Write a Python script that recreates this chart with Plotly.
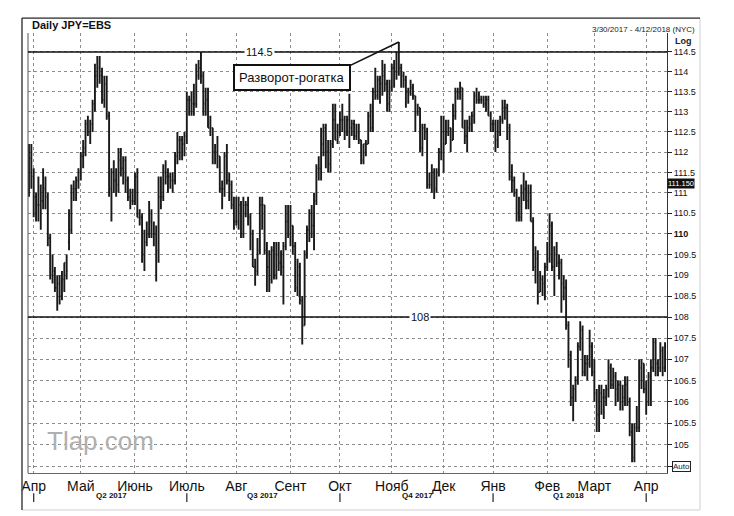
import math
import pandas as pd
import plotly.graph_objects as go

# ---------------- data ----------------
dates = pd.bdate_range("2017-03-30", "2018-04-12")

open_ = [
    111.0, 111.85, 111.4, 110.9, 110.7, 110.7, 110.8, 111.1, 110.9, 109.9,
    109.0, 109.1, 108.7, 108.8, 108.5, 108.9, 109.3, 109.8, 110.1, 111.1,
    111.1, 111.3, 111.5, 111.9, 112.1, 112.7, 112.5, 112.7, 113.2, 113.9,
    114.1, 113.9, 113.3, 113.7, 112.9, 111.1, 111.5, 111.3, 111.2, 111.8,
    111.6, 111.8, 111.3, 110.9, 110.8, 110.8, 111.4, 110.4, 110.4, 109.5,
    109.8, 110.0, 110.3, 110.0, 110.0, 109.6, 110.9, 110.9, 111.5, 111.4,
    111.4, 111.3, 111.3, 111.9, 112.3, 112.3, 112.2, 112.4, 113.3, 113.3,
    113.2, 113.2, 113.9, 114.1, 113.9, 113.2, 113.3, 112.6, 112.6, 112.0,
    112.0, 111.9, 111.1, 111.1, 111.9, 111.3, 111.2, 110.7, 110.3, 110.3,
    110.7, 110.0, 110.7, 110.7, 110.4, 110.0, 109.2, 109.1, 109.6, 110.7,
    110.7, 109.6, 109.2, 108.9, 109.6, 109.0, 109.5, 109.3, 109.2, 109.7,
    110.3, 110.0, 110.2, 109.7, 108.7, 109.2, 108.4, 107.8, 109.5, 110.1,
    110.5, 110.2, 110.8, 111.6, 111.6, 112.2, 112.6, 112.0, 111.7, 112.2,
    112.8, 112.3, 112.5, 112.8, 112.8, 112.5, 112.8, 112.6, 112.7, 112.4,
    112.5, 112.3, 111.8, 112.2, 112.2, 112.9, 112.6, 113.5, 113.4, 113.8,
    113.7, 113.9, 113.7, 113.2, 113.6, 114.1, 114.0, 114.0, 114.1, 113.9,
    113.8, 113.5, 113.5, 113.6, 113.4, 113.0, 113.1, 112.1, 112.6, 112.5,
    111.2, 111.2, 111.5, 111.1, 111.5, 112.0, 112.5, 112.2, 112.5, 112.6,
    112.3, 112.9, 113.5, 113.5, 113.6, 112.6, 112.4, 112.6, 112.7, 112.9,
    113.4, 113.3, 113.3, 113.3, 113.2, 113.3, 112.9, 112.7, 112.7, 112.3,
    112.5, 112.8, 113.1, 113.1, 112.6, 111.4, 111.3, 111.0, 110.5, 110.4,
    111.0, 111.1, 110.8, 111.0, 110.3, 109.2, 109.4, 108.6, 108.9, 108.8,
    109.2, 109.4, 110.2, 109.2, 109.5, 109.3, 109.3, 108.8, 108.7, 107.8,
    107.1, 106.1, 106.3, 106.5, 107.3, 107.7, 106.7, 106.9, 106.9, 107.3,
    106.7, 106.2, 105.7, 106.2, 106.1, 106.1, 106.3, 106.8, 106.4, 106.6,
    106.3, 106.4, 106.0, 106.1, 106.4, 106.0, 105.3, 104.7, 105.4, 105.4,
    106.8, 106.9, 106.3, 106.0, 106.6, 106.8, 107.4, 106.9, 106.8, 107.2,
    106.8,
]

high_ = [
    112.2, 112.2, 111.6, 111.0, 111.4, 111.2, 111.6, 111.4, 111.0, 110.0,
    109.5, 109.2, 109.0, 109.0, 109.1, 109.3, 109.5, 110.6, 111.2, 111.3,
    111.4, 111.6, 112.0, 112.3, 112.8, 112.9, 112.8, 113.3, 114.2, 114.4,
    114.4, 114.1, 113.9, 113.9, 113.0, 111.6, 111.8, 111.6, 112.1, 112.1,
    111.9, 111.9, 111.4, 111.1, 111.1, 111.5, 111.6, 110.6, 110.5, 110.1,
    110.3, 110.8, 110.6, 110.3, 110.2, 111.4, 111.4, 111.7, 111.8, 111.6,
    111.5, 111.5, 112.0, 112.5, 112.4, 112.4, 112.5, 113.5, 113.4, 113.5,
    113.7, 114.2, 114.3, 114.5, 114.0, 113.6, 113.6, 112.9, 112.6, 112.2,
    112.4, 111.9, 111.3, 112.0, 112.2, 111.5, 111.3, 110.9, 110.9, 110.9,
    110.8, 110.9, 110.8, 110.9, 110.5, 110.1, 109.4, 109.9, 110.9, 110.9,
    110.7, 109.8, 109.6, 109.7, 109.8, 109.8, 109.8, 109.6, 109.8, 110.7,
    110.7, 110.7, 110.2, 109.8, 109.4, 109.3, 108.5, 109.6, 110.2, 110.6,
    110.7, 111.0, 111.7, 111.9, 112.6, 112.7, 112.7, 112.3, 112.3, 113.2,
    113.2, 112.7, 113.0, 113.2, 112.9, 112.9, 113.45, 112.8, 112.8, 112.7,
    112.7, 112.3, 112.2, 112.3, 113.0, 113.2, 113.6, 114.1, 113.9, 113.9,
    114.3, 114.2, 113.8, 113.8, 114.2, 114.3, 114.5, 114.75, 114.2, 114.0,
    113.9, 113.6, 113.8, 113.7, 113.4, 113.2, 113.1, 112.7, 112.7, 112.6,
    111.5, 111.7, 111.6, 111.6, 112.1, 112.9, 112.9, 112.8, 112.8, 112.6,
    113.2, 113.6, 113.6, 113.75, 113.6, 112.8, 112.8, 112.9, 113.0, 113.5,
    113.6, 113.5, 113.4, 113.4, 113.4, 113.4, 113.0, 112.8, 112.8, 112.8,
    112.9, 113.3, 113.3, 113.2, 112.7, 111.7, 111.4, 111.1, 110.9, 111.2,
    111.5, 111.3, 111.2, 111.2, 110.4, 109.7, 109.6, 109.1, 109.0, 109.3,
    109.8, 110.5, 110.3, 109.7, 109.8, 109.5, 109.4, 109.0, 108.9, 107.9,
    107.2, 106.4, 106.6, 107.4, 107.9, 107.8, 107.1, 107.1, 107.7, 107.4,
    107.0, 106.3, 106.4, 106.4, 106.3, 106.4, 107.0, 106.9, 106.8, 106.7,
    106.5, 106.5, 106.4, 106.6, 106.6, 106.1, 105.5, 105.5, 105.9, 107.0,
    107.0, 106.9, 106.5, 106.7, 107.0, 107.5, 107.5, 107.0, 107.4, 107.3,
    107.4,
]

low_ = [
    110.9, 111.1, 110.4, 110.3, 110.3, 110.1, 110.6, 110.6, 109.7, 108.9,
    108.8, 108.6, 108.15, 108.3, 108.4, 108.6, 108.9, 109.6, 110.0, 110.8,
    110.8, 111.1, 111.3, 111.6, 111.9, 112.4, 112.2, 112.5, 113.0, 113.6,
    113.7, 113.2, 113.1, 112.8, 110.9, 110.3, 111.0, 110.9, 111.0, 111.4,
    111.2, 111.0, 110.8, 110.6, 110.7, 110.7, 110.4, 110.2, 109.3, 109.1,
    109.7, 109.9, 109.9, 109.7, 108.85, 109.3, 110.6, 110.8, 111.2, 111.0,
    111.1, 111.0, 111.2, 111.7, 111.8, 111.8, 111.9, 112.2, 112.9, 112.9,
    112.9, 113.1, 113.8, 113.7, 112.9, 112.9, 112.6, 112.4, 111.7, 111.7,
    111.6, 111.0, 110.6, 110.9, 111.2, 110.8, 110.6, 110.1, 110.2, 110.1,
    109.9, 109.9, 110.4, 110.2, 109.6, 109.2, 108.75, 109.0, 109.5, 110.1,
    109.5, 108.6, 108.6, 108.8, 108.9, 108.9, 109.1, 109.0, 108.3, 109.6,
    109.9, 109.7, 109.5, 108.6, 108.5, 108.3, 107.35, 107.8, 109.4, 109.8,
    109.9, 109.6, 110.7, 111.3, 111.3, 111.9, 111.6, 111.5, 111.5, 112.1,
    112.3, 112.2, 112.4, 112.5, 112.3, 112.4, 112.1, 112.4, 112.3, 112.3,
    112.2, 111.7, 111.7, 111.9, 112.2, 112.5, 112.5, 113.3, 113.3, 113.2,
    113.4, 113.5, 113.0, 113.0, 113.5, 113.6, 113.8, 113.9, 113.6, 113.6,
    113.1, 113.2, 113.4, 113.3, 112.5, 112.9, 112.0, 111.9, 112.3, 111.1,
    111.1, 111.0, 110.85, 111.0, 111.4, 111.8, 111.5, 112.2, 112.4, 112.0,
    112.3, 112.8, 113.3, 113.3, 112.6, 112.2, 112.0, 112.5, 112.5, 112.7,
    113.2, 113.2, 113.2, 113.1, 113.0, 112.9, 112.5, 112.5, 112.0, 112.1,
    112.4, 112.7, 112.8, 112.3, 111.3, 111.0, 110.9, 110.3, 110.3, 110.3,
    110.8, 110.6, 110.6, 110.3, 109.1, 108.8, 108.3, 108.6, 108.5, 108.4,
    109.1, 109.3, 109.1, 108.5, 109.2, 108.9, 108.1, 108.4, 107.7, 106.8,
    105.9, 105.55, 106.0, 106.4, 107.2, 106.6, 106.6, 106.5, 106.8, 106.6,
    106.0, 105.3, 105.3, 105.7, 105.6, 105.9, 106.1, 106.3, 106.3, 105.9,
    106.0, 105.8, 105.8, 105.9, 105.9, 105.2, 104.6, 104.6, 105.3, 105.3,
    106.3, 106.2, 105.7, 105.9, 105.9, 106.7, 106.6, 106.6, 106.7, 106.6,
    106.7,
]

close_ = [
    111.85, 111.4, 110.9, 110.7, 110.7, 110.8, 111.1, 110.9, 109.9, 109.0,
    109.1, 108.7, 108.8, 108.5, 108.9, 109.3, 109.1, 110.1, 111.1, 111.1,
    111.3, 111.5, 111.9, 112.1, 112.7, 112.5, 112.7, 113.2, 113.9, 114.1,
    113.9, 113.3, 113.7, 112.9, 111.1, 111.5, 111.3, 111.2, 111.8, 111.6,
    111.8, 111.3, 110.9, 110.8, 110.8, 111.4, 110.4, 110.4, 109.5, 109.8,
    110.0, 110.3, 110.0, 110.0, 109.6, 110.9, 110.9, 111.5, 111.4, 111.4,
    111.3, 111.3, 111.9, 112.3, 112.3, 112.2, 112.4, 113.3, 113.3, 113.2,
    113.2, 113.9, 114.1, 113.9, 113.2, 113.3, 112.6, 112.6, 112.0, 112.0,
    111.9, 111.1, 111.1, 111.9, 111.3, 111.2, 110.7, 110.3, 110.3, 110.7,
    110.0, 110.7, 110.7, 110.4, 110.0, 109.2, 109.1, 109.6, 110.7, 110.7,
    109.6, 109.2, 108.9, 109.6, 109.0, 109.5, 109.3, 109.2, 109.7, 110.3,
    110.0, 110.2, 109.7, 108.7, 109.2, 108.4, 107.8, 109.5, 110.1, 110.5,
    110.2, 110.8, 111.6, 111.6, 112.2, 112.6, 112.0, 111.7, 112.2, 112.8,
    112.3, 112.5, 112.8, 112.8, 112.5, 112.8, 112.6, 112.7, 112.4, 112.5,
    112.3, 111.8, 112.2, 112.2, 112.9, 112.6, 113.5, 113.4, 113.8, 113.7,
    113.9, 113.7, 113.2, 113.6, 114.1, 114.0, 114.0, 114.1, 113.9, 113.8,
    113.5, 113.5, 113.6, 113.4, 113.0, 113.1, 112.1, 112.6, 112.5, 111.2,
    111.2, 111.5, 111.1, 111.5, 112.0, 112.5, 112.2, 112.5, 112.6, 112.3,
    112.9, 113.5, 113.5, 113.6, 112.6, 112.4, 112.6, 112.7, 112.9, 113.4,
    113.3, 113.3, 113.3, 113.2, 113.3, 112.9, 112.7, 112.7, 112.3, 112.5,
    112.8, 113.1, 113.1, 112.6, 111.4, 111.3, 111.0, 110.5, 110.4, 111.0,
    111.1, 110.8, 111.0, 110.3, 109.2, 109.4, 108.6, 108.9, 108.8, 109.2,
    109.4, 110.2, 109.2, 109.5, 109.3, 109.3, 108.8, 108.7, 107.8, 107.1,
    106.1, 106.3, 106.5, 107.3, 107.7, 106.7, 106.9, 106.9, 107.3, 106.7,
    106.2, 105.7, 106.2, 106.1, 106.1, 106.3, 106.8, 106.4, 106.6, 106.3,
    106.4, 106.0, 106.1, 106.4, 106.0, 105.3, 104.7, 105.4, 105.4, 106.8,
    106.9, 106.3, 106.0, 106.6, 106.8, 107.4, 106.9, 106.8, 107.2, 106.8,
    107.3,
]

month_ticks = ["2017-04-03", "2017-05-01", "2017-06-01", "2017-07-03", "2017-08-01",
               "2017-09-01", "2017-10-02", "2017-11-01", "2017-12-01", "2018-01-01",
               "2018-02-01", "2018-03-01", "2018-04-02"]
month_labels = ["Апр", "Май", "Июнь", "Июль", "Авг", "Сент", "Окт", "Нояб", "Дек",
                "Янв", "Фев", "Март", "Апр"]

quarter_starts = ["2017-04-03", "2017-07-03", "2017-10-02", "2018-01-01", "2018-04-02"]
quarter_label_pos = ["2017-05-18", "2017-08-16", "2017-11-16", "2018-02-14"]
quarter_labels = ["Q2 2017", "Q3 2017", "Q4 2017", "Q1 2018"]

price_ticks = [104.5, 105.0, 105.5, 106.0, 106.5, 107.0, 107.5, 108.0, 108.5, 109.0,
               109.5, 110.0, 110.5, 111.0, 111.5, 112.0, 112.5, 113.0, 113.5, 114.0, 114.5]
price_tick_text = ["", "105", "105.5", "106", "106.5", "107", "107.5", "108", "108.5", "109",
                   "109.5", "<b>110</b>", "110.5", "111", "111.5", "112", "112.5", "113",
                   "113.5", "114", "114.5"]

level_lines = [114.5, 108.0]
level_labels = ["114.5", "108"]
last_value = 111.150
peak_index = 157  # 6 Nov 2017
pattern_label = "Разворот-рогатка"

# ---------------- figure ----------------
FONT = "Liberation Sans, Arial, sans-serif"
y_lo, y_hi = 104.35, 114.98
lo, hi = math.log10(y_lo), math.log10(y_hi)


def ypaper(v):
    return (math.log10(v) - lo) / (hi - lo)


fig = go.Figure()
fig.add_trace(go.Ohlc(
    x=dates, open=open_, high=high_, low=low_, close=close_,
    increasing=dict(line=dict(color="#1a1a1a", width=1.9)),
    decreasing=dict(line=dict(color="#1a1a1a", width=1.9)),
    tickwidth=0.45, showlegend=False, hoverinfo="skip",
))

shapes = []
# outer frame
shapes.append(dict(type="rect", xref="paper", yref="paper", x0=-0.0094, x1=1.0516,
                   y0=-0.084, y1=1.034, line=dict(color="#d0d0d0", width=1)))
shapes.append(dict(type="line", xref="paper", yref="paper", x0=-0.0094, x1=1.0516,
                   y0=1.034, y1=1.034, line=dict(color="#333", width=1.3)))
shapes.append(dict(type="line", xref="paper", yref="paper", x0=-0.0094, x1=-0.0094,
                   y0=-0.084, y1=1.034, line=dict(color="#333", width=1.3)))
# plot left edge
shapes.append(dict(type="line", xref="paper", yref="paper", x0=0, x1=0,
                   y0=0, y1=1, line=dict(color="#555", width=1)))
# level lines
for lv in level_lines:
    shapes.append(dict(type="line", xref="paper", yref="y", x0=0, x1=1, y0=lv, y1=lv,
                       line=dict(color="#111", width=1.5)))
# pointer from label box to the peak
shapes.append(dict(type="line", xref="x", yref="y", x0="2017-10-06", y0=114.15,
                   x1=dates[peak_index], y1=high_[peak_index],
                   line=dict(color="#111", width=1.6)))
# quarter markers
for q in quarter_starts:
    shapes.append(dict(type="line", xref="x", yref="paper", x0=q, x1=q,
                       y0=-0.046, y1=-0.066, line=dict(color="#222", width=1.2)))

annotations = []
annotations.append(dict(text="<b>Daily JPY=EBS</b>", xref="paper", yref="paper",
                        x=0.003, y=1.018, xanchor="left", yanchor="middle",
                        showarrow=False, font=dict(family=FONT, size=11, color="#111")))
annotations.append(dict(text="3/30/2017 - 4/12/2018 (NYC)", xref="paper", yref="paper",
                        x=1.047, y=1.009, xanchor="right", yanchor="middle",
                        showarrow=False, font=dict(family=FONT, size=8, color="#222")))
annotations.append(dict(text="<b>Log</b>", xref="paper", yref="paper",
                        x=1.009, y=0.982, xanchor="left", yanchor="middle",
                        showarrow=False, font=dict(family=FONT, size=9, color="#222")))
for lv, lt, xp in zip(level_lines, level_labels, [0.363, 0.613]):
    annotations.append(dict(text=lt, xref="paper", yref="paper", x=xp, y=ypaper(lv),
                            xanchor="center", yanchor="middle", showarrow=False,
                            bgcolor="white", borderpad=1,
                            font=dict(family=FONT, size=11, color="#111")))
annotations.append(dict(text=pattern_label, xref="paper", yref="paper", x=0.413, y=0.898,
                        xanchor="center", yanchor="middle", showarrow=False,
                        bgcolor="white", bordercolor="#111", borderwidth=2, borderpad=4,
                        font=dict(family=FONT, size=13, color="#111")))
annotations.append(dict(text=f"{last_value:.3f}", xref="paper", yref="paper",
                        x=1.0, y=ypaper(last_value), yshift=3, xanchor="left",
                        yanchor="middle", showarrow=False, bgcolor="#111", borderpad=0,
                        font=dict(family=FONT, size=7.5, color="white")))
annotations.append(dict(text="Auto", xref="paper", yref="paper", x=1.008,
                        y=ypaper(104.5), xanchor="left", yanchor="middle",
                        showarrow=False, bordercolor="#222", borderwidth=1, borderpad=0,
                        bgcolor="white", font=dict(family=FONT, size=8, color="#222")))
annotations.append(dict(text="Tlap.com", xref="paper", yref="paper", x=0.113, y=0.073,
                        xanchor="center", yanchor="middle", showarrow=False,
                        font=dict(family=FONT, size=26, color="#b0b0b0")))
for qp, ql in zip(quarter_label_pos, quarter_labels):
    annotations.append(dict(text=f"<b>{ql}</b>", xref="x", yref="paper", x=qp, y=-0.05,
                            xanchor="center", yanchor="middle", showarrow=False,
                            font=dict(family=FONT, size=8, color="#111")))

fig.update_layout(
    width=734, height=516,
    margin=dict(l=28, r=67, t=33, b=43),
    paper_bgcolor="white", plot_bgcolor="white",
    font=dict(family=FONT, color="#111"),
    shapes=shapes, annotations=annotations,
    xaxis=dict(
        type="date",
        rangebreaks=[dict(bounds=["sat", "mon"])],
        range=["2017-03-29 14:00", "2018-04-12 20:00"],
        rangeslider=dict(visible=False),
        tickmode="array", tickvals=month_ticks, ticktext=month_labels,
        tickfont=dict(family=FONT, size=14, color="#111"),
        ticks="", showgrid=True, gridcolor="#8c8c8c", griddash="dot", gridwidth=1,
        showline=True, linecolor="#666", linewidth=1, zeroline=False,
    ),
    yaxis=dict(
        type="log", range=[lo, hi], side="right",
        tickmode="array", tickvals=price_ticks, ticktext=price_tick_text,
        tickfont=dict(family=FONT, size=9, color="#111"),
        ticks="outside", ticklen=4, tickcolor="#222",
        showgrid=True, gridcolor="#8c8c8c", griddash="dot", gridwidth=1,
        showline=True, linecolor="#333", linewidth=1, zeroline=False,
    ),
)

fig.write_html("out.html")
